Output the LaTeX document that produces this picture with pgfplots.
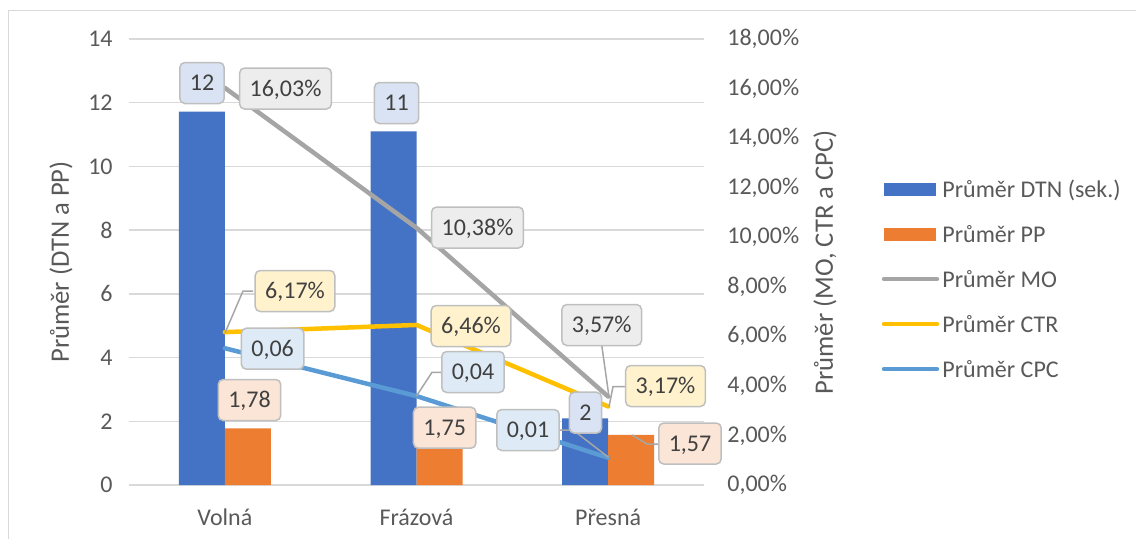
\documentclass[border=0pt]{standalone}
\usepackage{pgfplots}
\pgfplotsset{compat=1.18}
\usepackage{fontspec}
\setmainfont{Carlito}
\definecolor{dtnblue}{HTML}{4472C4}
\definecolor{pporange}{HTML}{ED7D31}
\definecolor{mogray}{HTML}{A5A5A5}
\definecolor{ctrgold}{HTML}{FFC000}
\definecolor{cpcblue}{HTML}{5B9BD5}
\definecolor{gridgray}{HTML}{D9D9D9}
\definecolor{txtgray}{HTML}{595959}
\definecolor{lbltext}{HTML}{404040}
\definecolor{lblborder}{HTML}{BFBFBF}
\definecolor{leader}{HTML}{A6A6A6}
\definecolor{fdtn}{HTML}{DAE3F3}
\definecolor{fpp}{HTML}{FBE5D6}
\definecolor{fmo}{HTML}{EDEDED}
\definecolor{fctr}{HTML}{FFF2CC}
\definecolor{fcpc}{HTML}{DEEBF7}
\begin{document}
\begin{tikzpicture}[font=\fontsize{12}{14}\selectfont, every node/.append style={text=txtgray}]
\useasboundingbox (-64.5pt,-26.5pt) rectangle (503.5pt,242.5pt);
% primary axis: bars
\begin{axis}[
  scale only axis, width=287.5pt, height=223pt,
  xmin=-0.5, xmax=2.5, ymin=0, ymax=14,
  xtick={0,1,2}, xticklabels={Volná,Frázová,Přesná},
  ytick={0,2,...,14},
  ymajorgrids, grid style={draw=gridgray, line width=0.75pt},
  axis line style={draw=none}, major tick length=0pt, tick style={draw=none},
  ybar=0pt, bar width=23pt,
  yticklabel style={anchor=east, inner sep=0pt, xshift=-8pt},
  xticklabel style={anchor=base, inner sep=0pt, yshift=-20pt},
  /pgf/number format/assume math mode=true,
  clip=false,
]
\addplot[fill=dtnblue, draw=none] coordinates {(0,11.72) (1,11.10) (2,2.09)};
\addplot[fill=pporange, draw=none] coordinates {(0,1.78) (1,1.75) (2,1.57)};
\end{axis}
% secondary axis: lines
\begin{axis}[
  scale only axis, width=287.5pt, height=223pt,
  xmin=-0.5, xmax=2.5, ymin=0, ymax=18,
  axis x line=none, axis y line*=right,
  axis line style={draw=none}, major tick length=0pt, tick style={draw=none},
  ytick={0,2,...,18},
  yticklabels={{0,00\%},{2,00\%},{4,00\%},{6,00\%},{8,00\%},{10,00\%},{12,00\%},{14,00\%},{16,00\%},{18,00\%}},
  yticklabel style={anchor=west, inner sep=0pt, xshift=11.5pt},
  clip=false,
]
\addplot[mogray, mark=none, line width=2.25pt, line cap=round, line join=round] coordinates {(0,16.03) (1,10.38) (2,3.57)};
\addplot[ctrgold, mark=none, line width=2.25pt, line cap=round, line join=round] coordinates {(0,6.17) (1,6.46) (2,3.17)};
\addplot[cpcblue, mark=none, line width=2.25pt, line cap=round, line join=round] coordinates {(0,5.52) (1,3.59) (2,1.10)};
\end{axis}
% annotations in pixel coordinates of the reference
\begin{scope}[x=0.5pt, y=-0.5pt, shift={(-129,-485)},
  lbl/.style={draw=lblborder, line width=0.75pt, rounded corners=2.5pt, inner xsep=5pt, inner ysep=0pt,
    minimum height=20.5pt, text height=7.6pt, text depth=0pt, text=lbltext},
  ld/.style={draw=leader, line width=0.75pt}]
% frame
\draw[gridgray, line width=0.75pt] (8.5,540) -- (8.5,10.5) -- (1140,10.5);
% leader lines
\draw[ld] (253,291) -- (243,291) -- (225,333);
\draw[ld] (442,372.3) -- (432,372.3) -- (416.5,396);
\draw[ld] (559,430) -- (573,430) -- (609,457.7);
\draw[ld] (601.7,345) -- (609,396.7);
\draw[ld] (626,386.7) -- (613,386.7) -- (609,406.7);
\draw[ld] (659,444) -- (647,444) -- (632,435);
% data labels
\node[lbl, fill=fdtn] at (202,83) {12};
\node[lbl, fill=fdtn] at (396.5,103) {11};
\node[lbl, fill=fdtn] at (585.5,412.7) {2};
\node[lbl, fill=fpp] at (249.5,400) {1,78};
\node[lbl, fill=fpp] at (444.7,427.7) {1,75};
\node[lbl, fill=fpp] at (690,443.5) {1,57};
\node[lbl, fill=fmo] at (285.5,88.5) {16,03\%};
\node[lbl, fill=fmo] at (477.5,227.5) {10,38\%};
\node[lbl, fill=fmo] at (601.7,325) {3,57\%};
\node[lbl, fill=fctr] at (295,291) {6,17\%};
\node[lbl, fill=fctr] at (471,326) {6,46\%};
\node[lbl, fill=fctr] at (665.5,386) {3,17\%};
\node[lbl, fill=fcpc] at (272.6,348.7) {0,06};
\node[lbl, fill=fcpc] at (473,372) {0,04};
\node[lbl, fill=fcpc] at (528,430) {0,01};
% axis titles
\node[rotate=90, inner sep=0pt, font=\fontsize{13.3}{16}\selectfont] at (61,262) {Průměr (DTN a PP)};
\node[rotate=90, inner sep=0pt, font=\fontsize{13.3}{16}\selectfont] at (825,262.5) {Průměr (MO, CTR a CPC)};
% legend
\fill[dtnblue] (884,182.5) rectangle (936,195.5);
\node[anchor=base west, inner sep=0pt] at (942,197) {Průměr DTN (sek.)};
\fill[pporange] (884,227.5) rectangle (936,240.5);
\node[anchor=base west, inner sep=0pt] at (942,242) {Průměr PP};
\draw[mogray, line width=2.25pt, line cap=round] (884,279) -- (937,279);
\node[anchor=base west, inner sep=0pt] at (942,287) {Průměr MO};
\draw[ctrgold, line width=2.25pt, line cap=round] (884,324) -- (937,324);
\node[anchor=base west, inner sep=0pt] at (942,332) {Průměr CTR};
\draw[cpcblue, line width=2.25pt, line cap=round] (884,369) -- (937,369);
\node[anchor=base west, inner sep=0pt] at (942,377) {Průměr CPC};
\end{scope}
\end{tikzpicture}
\end{document}
